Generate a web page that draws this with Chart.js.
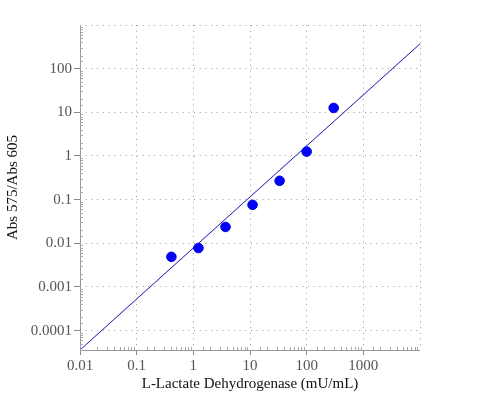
<!DOCTYPE html>
<html>
<head>
<meta charset="utf-8">
<script src="https://cdn.jsdelivr.net/npm/chart.js@4.4.0/dist/chart.umd.min.js"></script>
<style>
  html, body { margin: 0; padding: 0; background: #fff; }
  #wrap { width: 500px; height: 400px; }
</style>
</head>
<body>
<div id="wrap"><canvas id="chart"></canvas></div>
<script>
// measured points (3-fold dilution series)
const ldhActivity = [0.41, 1.23, 3.7, 11.1, 33.3, 100, 300];
const absRatio = [0.0049, 0.0078, 0.0237, 0.076, 0.27, 1.26, 12.6];

// fitted power-law line, end points
const fitX = [0.01, 10000];
const fitY = [0.000036, 370];

const xTickLabels = [0.01, 0.1, 1, 10, 100, 1000];
const yTickLabels = [0.0001, 0.001, 0.01, 0.1, 1, 10, 100];

function isDecade(v) {
  const l = Math.log10(v);
  return Math.abs(l - Math.round(l)) < 1e-9;
}
function labelFor(list) {
  return function(value) {
    for (const t of list) {
      if (Math.abs(value - t) / t < 1e-6) return String(t);
    }
    return '';
  };
}

// axis lines plus small inward marks at minor positions
const axisMarks = {
  id: 'axisMarks',
  afterDraw(chart) {
    const ctx = chart.ctx;
    const a = chart.chartArea;
    ctx.save();
    ctx.strokeStyle = '#999';
    ctx.lineWidth = 1;
    ctx.beginPath();
    ctx.moveTo(a.left + 0.5, a.top);
    ctx.lineTo(a.left + 0.5, a.bottom + 0.5);
    ctx.lineTo(a.right, a.bottom + 0.5);
    ctx.stroke();
    ctx.strokeStyle = '#aaa';
    chart.scales.x.ticks.forEach(function(t) {
      if (isDecade(t.value)) return;
      const px = Math.round(chart.scales.x.getPixelForValue(t.value)) + 0.5;
      ctx.beginPath();
      ctx.moveTo(px, a.bottom);
      ctx.lineTo(px, a.bottom - 3);
      ctx.stroke();
    });
    chart.scales.y.ticks.forEach(function(t) {
      if (isDecade(t.value)) return;
      const py = Math.round(chart.scales.y.getPixelForValue(t.value)) + 0.5;
      ctx.beginPath();
      ctx.moveTo(a.left, py);
      ctx.lineTo(a.left + 3, py);
      ctx.stroke();
    });
    ctx.restore();
  }
};

const gridColor = function(c) {
  return c.tick && isDecade(c.tick.value) ? '#999' : 'rgba(0,0,0,0)';
};
const tickColor = function(c) {
  return c.tick && isDecade(c.tick.value) && c.tick.label !== '' ? '#888' : 'rgba(0,0,0,0)';
};

new Chart(document.getElementById('chart'), {
  type: 'scatter',
  data: {
    datasets: [
      {
        label: 'Fit',
        type: 'line',
        data: fitX.map((x, i) => ({ x: x, y: fitY[i] })),
        borderColor: '#1010ff',
        borderWidth: 1,
        pointRadius: 0,
        fill: false,
        order: 2
      },
      {
        label: 'Data',
        data: ldhActivity.map((x, i) => ({ x: x, y: absRatio[i] })),
        backgroundColor: '#0000ff',
        borderColor: '#0000ff',
        pointRadius: 4.8,
        order: 1
      }
    ]
  },
  options: {
    responsive: true,
    maintainAspectRatio: false,
    animation: false,
    layout: { padding: { top: 25, right: 80, left: 0, bottom: 0 } },
    plugins: {
      legend: { display: false },
      tooltip: { enabled: false }
    },
    scales: {
      x: {
        type: 'logarithmic',
        min: 0.01,
        max: 10000,
        afterFit: function(s) { s.height = 50; },
        border: { display: false, dash: [1, 4.7] },
        grid: {
          color: gridColor,
          tickColor: tickColor,
          tickLength: 5,
          lineWidth: 1
        },
        ticks: {
          autoSkip: false,
          maxRotation: 0,
          padding: 2,
          color: '#555',
          font: { family: 'Liberation Serif', size: 15 },
          callback: labelFor(xTickLabels)
        },
        title: {
          display: true,
          text: 'L-Lactate Dehydrogenase (mU/mL)',
          color: '#111',
          font: { family: 'Liberation Serif', size: 15 },
          padding: { top: 4, bottom: 7 }
        }
      },
      y: {
        type: 'logarithmic',
        min: 0.000036,
        max: 1000,
        afterFit: function(s) { s.width = 80; },
        border: { display: false, dash: [1, 4.7] },
        grid: {
          color: gridColor,
          tickColor: tickColor,
          tickLength: 6,
          lineWidth: 1
        },
        ticks: {
          autoSkip: false,
          padding: 2,
          color: '#555',
          font: { family: 'Liberation Serif', size: 15 },
          callback: labelFor(yTickLabels)
        },
        title: {
          display: true,
          text: 'Abs 575/Abs 605',
          color: '#111',
          font: { family: 'Liberation Serif', size: 15 },
          padding: { top: 4, bottom: 0 }
        }
      }
    }
  },
  plugins: [axisMarks]
});
</script>
</body>
</html>
